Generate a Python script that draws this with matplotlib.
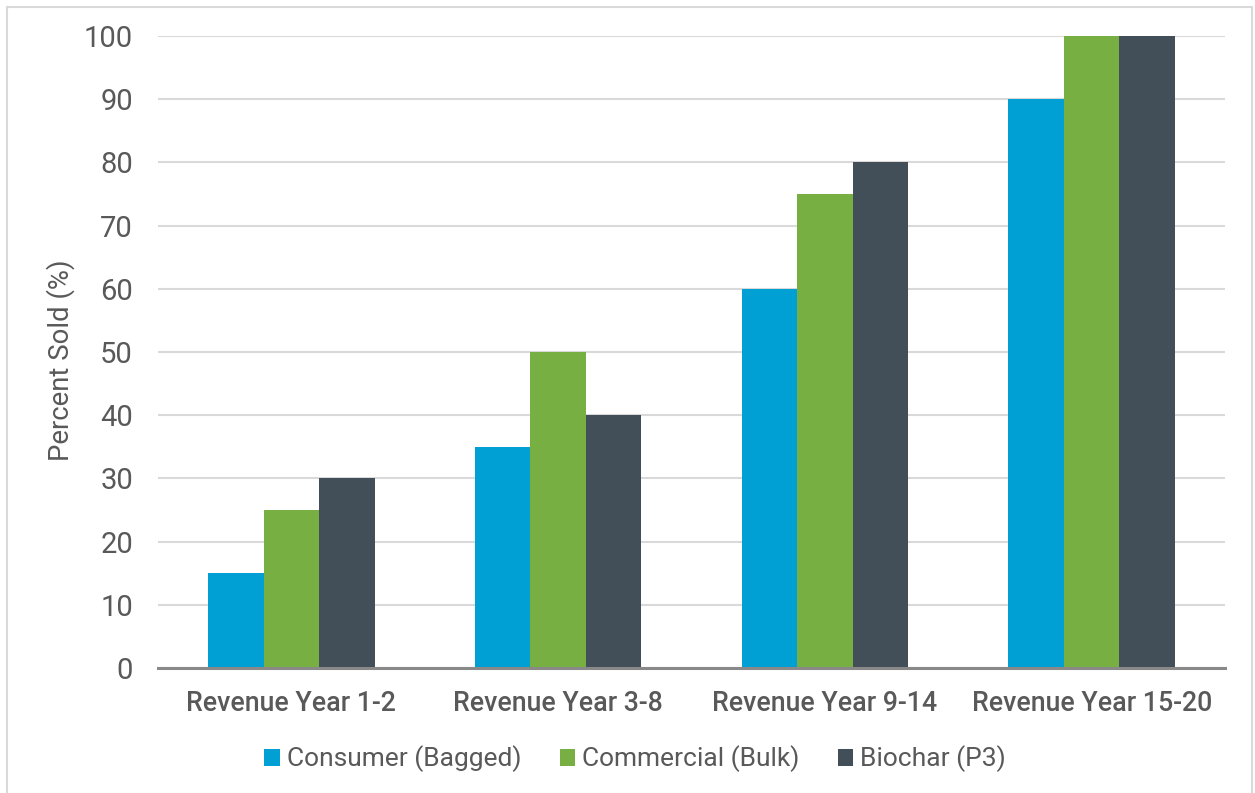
import matplotlib
matplotlib.use("Agg")
import matplotlib.pyplot as plt
import numpy as np
from matplotlib.patches import Rectangle

plt.rcParams['font.family'] = ['Roboto', 'DejaVu Sans']

categories = ['Revenue Year 1-2', 'Revenue Year 3-8', 'Revenue Year 9-14', 'Revenue Year 15-20']
series_names = ['Consumer (Bagged)', 'Commercial (Bulk)', 'Biochar (P3)']
consumer = [15, 35, 60, 90]
commercial = [25, 50, 75, 100]
biochar = [30, 40, 80, 100]
colors = ['#009FD4', '#78AF42', '#424F59']
text_color = '#595959'

fig = plt.figure(figsize=(12.55, 7.93), dpi=100)
ax = fig.add_axes([158 / 1255, 1 - 668 / 793, (1225 - 158) / 1255, (668 - 36) / 793])

# light frame round the whole figure
fig.patches.append(Rectangle((7 / 1255, -0.01), (1252 - 7) / 1255, 1 - 7 / 793 + 0.01,
                             transform=fig.transFigure, fill=False,
                             edgecolor='#d9d9d9', linewidth=1.5))

x = np.arange(len(categories))
w = 0.208
for i, (vals, name) in enumerate(zip([consumer, commercial, biochar], series_names)):
    ax.bar(x + (i - 1) * w, vals, w, color=colors[i], label=name, zorder=3)

ax.set_xlim(-0.5, len(categories) - 0.5)
ax.set_ylim(0, 100)
ax.set_yticks(range(0, 101, 10))
ax.yaxis.grid(True, color='#d9d9d9', linewidth=1.5, zorder=0)
for s in ['top', 'right', 'left']:
    ax.spines[s].set_visible(False)
ax.spines['bottom'].set_color('#898989')
ax.spines['bottom'].set_linewidth(2.2)
ax.spines['bottom'].set_zorder(4)

ax.set_xticks(x)
ax.set_xticklabels(categories, fontsize=19.3, fontweight='medium', color=text_color)
ax.tick_params(axis='x', length=0, pad=16)
ax.tick_params(axis='y', length=0, pad=18, labelsize=21, labelcolor=text_color)
ax.set_ylabel('Percent Sold (%)', fontsize=19.8, color=text_color)
ax.yaxis.set_label_coords(-0.078, 0.487)

leg = fig.legend(loc='center', bbox_to_anchor=(0.506, 1 - 759 / 793), ncol=3, frameon=False,
                 fontsize=19, handlelength=0.6, handleheight=0.6, handletextpad=0.25,
                 columnspacing=1.45)
for t in leg.get_texts():
    t.set_color(text_color)

fig.savefig('out.png', dpi=100)
